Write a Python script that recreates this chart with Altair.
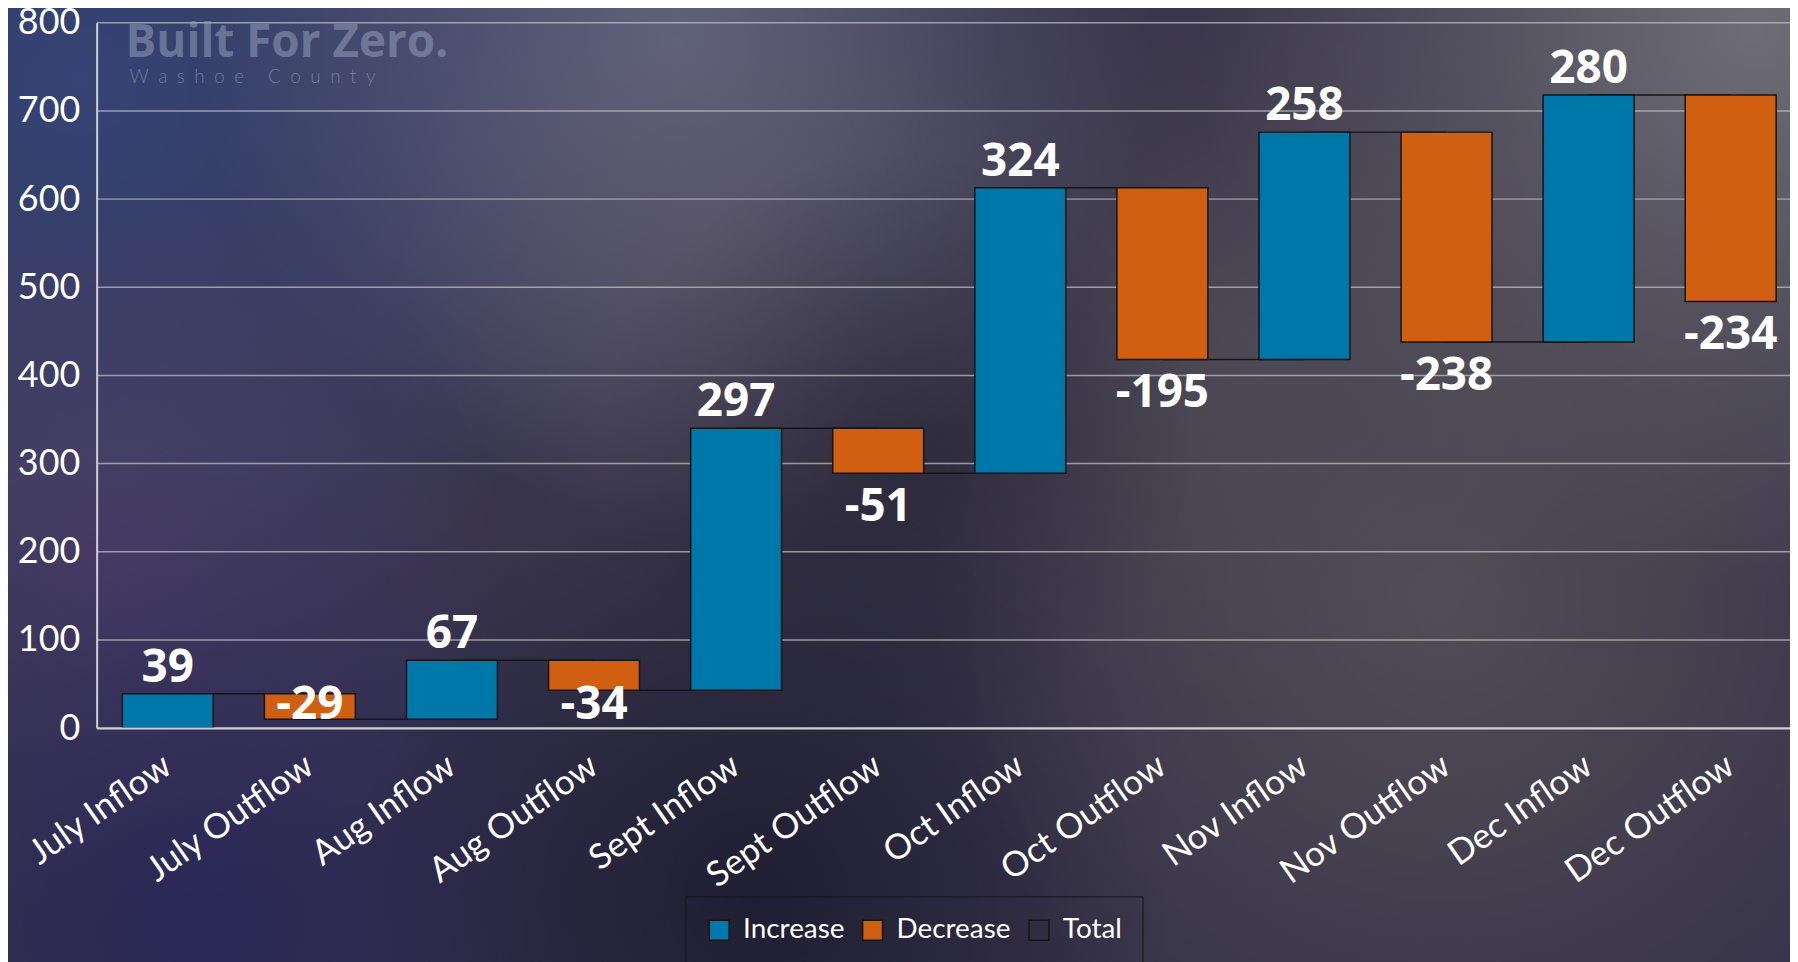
import altair as alt
import pandas as pd

categories = ["July Inflow", "July Outflow", "Aug Inflow", "Aug Outflow",
              "Sept Inflow", "Sept Outflow", "Oct Inflow", "Oct Outflow",
              "Nov Inflow", "Nov Outflow", "Dec Inflow", "Dec Outflow"]
amounts = [39, -29, 67, -34, 297, -51, 324, -195, 258, -238, 280, -234]
y_ticks = [0, 100, 200, 300, 400, 500, 600, 700, 800]
legend_labels = ["Increase", "Decrease", "Total"]
legend_colors = ["#0077a9", "#d05f12", "transparent"]

# build waterfall table
starts, ends = [], []
total = 0
for a in amounts:
    starts.append(total)
    total += a
    ends.append(total)
df = pd.DataFrame({
    "category": categories,
    "amount": amounts,
    "start": starts,
    "end": ends,
    "kind": ["Increase" if a > 0 else "Decrease" for a in amounts],
    "next": categories[1:] + [None],
    "label": [str(a) for a in amounts],
})
# negative labels are kept inside the plot area (above the x axis)
df["labelY"] = [max(e, 64) if a < 0 else e for a, e in zip(amounts, ends)]
conn = df.iloc[:-1]
grid_df = pd.DataFrame({"v": y_ticks})

W, H = 1700, 708
PADL, PADT = 89, 13
FONT = "Lato"
NUMFONT = "'Liberation Sans Narrow', 'Open Sans'"

x_scale = alt.Scale(domain=categories, paddingInner=0.36, paddingOuter=0.139, align=0.65)
x_axis = alt.Axis(title=None, labelAngle=-35, labelAlign="right", labelBaseline="top",
                  labelFont=FONT, labelFontSize=35, labelColor="white", labelPadding=20,
                  labelOffset=-10, labelLimit=400,
                  ticks=False, domainColor="#d0d0d0", domainWidth=2, zindex=1)
y_scale = alt.Scale(domain=[0, 800], nice=False)
y_axis = alt.Axis(title=None, values=y_ticks, grid=False, ticks=False, labelFont=FONT,
                  labelFontSize=36, labelColor="white", labelPadding=17,
                  domainColor="#d0d0d0", domainWidth=2, zindex=1)

one = pd.DataFrame({"a": [0]})

# background glows (page-space centre x, y, radius, rgb, alpha)
glows = [
    (80, 80, 600, "52,70,125", 0.85),
    (680, 40, 480, "112,118,148", 0.7),
    (1760, 30, 560, "128,128,130", 0.75),
    (720, 240, 320, "100,92,106", 0.5),
    (130, 560, 380, "84,68,112", 0.65),
    (200, 920, 480, "36,36,90", 0.75),
    (760, 900, 420, "20,20,40", 0.7),
    (1450, 600, 520, "92,88,88", 0.7),
    (1250, 330, 380, "88,84,92", 0.5),
    (900, 450, 300, "30,28,42", 0.45),
]

layers = []
layers.append(
    alt.Chart(one).mark_rect(color="#38344a").encode(
        x=alt.value(-PADL), x2=alt.value(1790 - PADL),
        y=alt.value(-PADT), y2=alt.value(954 - PADT))
)
for cx, cy, r, rgb, a in glows:
    grad = alt.RadialGradient(
        gradient="radial",
        stops=[alt.GradientStop(color=f"rgba({rgb},{a})", offset=0),
               alt.GradientStop(color=f"rgba({rgb},{a*0.5})", offset=0.5),
               alt.GradientStop(color=f"rgba({rgb},0)", offset=1)],
        x1=0.5, y1=0.5, r1=0, x2=0.5, y2=0.5, r2=0.5)
    px, py = cx - 8 - PADL, cy - 8 - PADT
    layers.append(
        alt.Chart(one).mark_rect(color=grad).encode(
            x=alt.value(px - r), x2=alt.value(px + r),
            y=alt.value(py - r), y2=alt.value(py + r))
    )

grid = alt.Chart(grid_df).mark_rule(color="#bdbdbd", strokeWidth=1.5, opacity=0.75).encode(
    y=alt.Y("v:Q", scale=y_scale, axis=y_axis))

connectors = alt.Chart(conn).mark_rule(color="#151515", strokeWidth=1.5).encode(
    x=alt.X("category:N", scale=x_scale, axis=x_axis, sort=categories),
    x2="next:N",
    y=alt.Y("end:Q", scale=y_scale, axis=y_axis))

bars = alt.Chart(df).mark_bar(stroke="#151515", strokeWidth=1.5, opacity=1).encode(
    x=alt.X("category:N", scale=x_scale, axis=x_axis, sort=categories),
    y=alt.Y("start:Q", scale=y_scale, axis=y_axis),
    y2="end:Q",
    color=alt.Color("kind:N", scale=alt.Scale(domain=legend_labels, range=legend_colors),
                    legend=alt.Legend(title=None, orient="none", legendX=591, legendY=877,
                                      direction="horizontal", columns=3,
                                      symbolType="square", symbolSize=400,
                                      symbolStrokeColor="#151515", symbolStrokeWidth=1.5,
                                      labelColor="white", labelFont=FONT, labelFontSize=28,
                                      labelOffset=10, columnPadding=14, padding=20,
                                      strokeColor="#151515")))

pos_labels = alt.Chart(df[df["amount"] > 0]).mark_text(
    baseline="alphabetic", dy=-12, fontSize=46, fontWeight="bold", color="white", font=NUMFONT
).encode(
    x=alt.X("category:N", scale=x_scale, axis=x_axis, sort=categories),
    y=alt.Y("labelY:Q", scale=y_scale, axis=y_axis),
    text="label:N")

neg_labels = alt.Chart(df[df["amount"] < 0]).mark_text(
    baseline="alphabetic", dy=48, fontSize=46, fontWeight="bold", color="white", font=NUMFONT
).encode(
    x=alt.X("category:N", scale=x_scale, axis=x_axis, sort=categories),
    y=alt.Y("labelY:Q", scale=y_scale, axis=y_axis),
    text="label:N")

wm1 = alt.Chart(one).mark_text(
    text="Built For Zero.", align="left", baseline="alphabetic", fontSize=46,
    fontWeight="bold", font=NUMFONT, color="rgba(150,160,188,0.55)"
).encode(x=alt.value(29), y=alt.value(34))
wm2 = alt.Chart(one).mark_text(
    text="\u2002".join("Washoe County"), align="left", baseline="alphabetic", fontSize=19,
    font=FONT, fontWeight=300, color="rgba(150,160,188,0.6)"
).encode(x=alt.value(33), y=alt.value(60))

layers += [grid, connectors, bars, pos_labels, neg_labels, wm1, wm2]

chart = alt.layer(*layers).properties(
    width=W, height=H,
    padding={"left": PADL, "top": PADT, "right": 0, "bottom": 233},
    autosize=alt.AutoSizeParams(type="none"),
    background="#38344a",
).configure_view(stroke=None)

chart.save("out.html", embed_options={"renderer": "svg", "actions": False})
